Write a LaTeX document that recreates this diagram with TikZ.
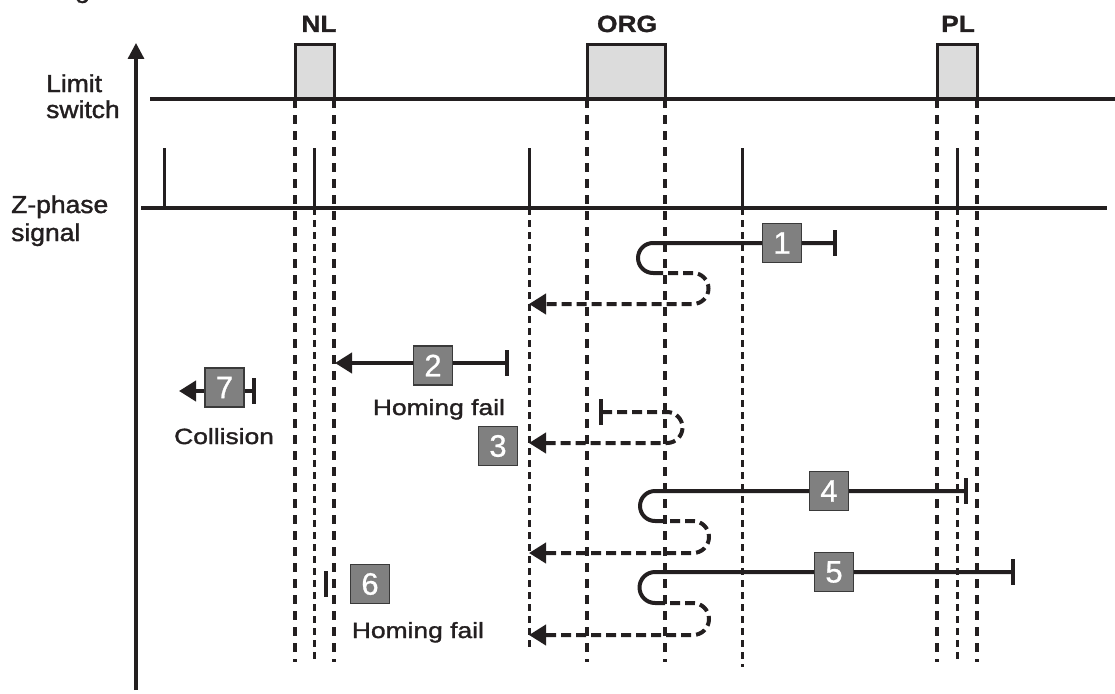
\documentclass[tikz,border=0pt]{standalone}
\usepackage{fontspec}
\setmainfont{Liberation Sans}
\newfontfamily\lblA[FakeStretch=1.08,FakeBold=1.5]{Liberation Sans}
\newfontfamily\lblB[FakeStretch=1.2,FakeBold=1.5]{Liberation Sans}
\newfontfamily\lblC[FakeStretch=1.12,FakeBold=1.2]{Liberation Sans}
\newfontfamily\lblD[FakeBold=0.8]{Liberation Sans}
\usetikzlibrary{arrows.meta}
\definecolor{ink}{HTML}{231F20}
\definecolor{swfill}{HTML}{DCDCDC}
\definecolor{numfill}{HTML}{808080}
\definecolor{numline}{HTML}{3A3A3A}
\tikzset{
  sigline/.style={line width=3.3pt, draw=ink},
  pulse/.style={line width=3pt, draw=ink},
  swbox/.style={line width=3pt, draw=ink, fill=swfill},
  guide/.style={line width=3.3pt, draw=ink, dash pattern=on 9pt off 7pt},
  zguide/.style={line width=3pt, draw=ink, dash pattern=on 7pt off 5pt},
  mv/.style={line width=4pt, draw=ink},
  mvd/.style={line width=4pt, draw=ink, dash pattern=on 10pt off 5pt},
  tip/.style={-{Triangle[length=17pt,width=20pt]}},
  bartip/.style={{Bar[width=26pt]}-},
  both/.style={{Bar[width=26pt]}-{Triangle[length=17pt,width=20pt]}},
  numbox/.style={draw=numline, line width=1.5pt, fill=numfill, minimum width=39pt, minimum height=39pt, inner sep=0pt, text=white, font=\lblD\fontsize{31}{31}\selectfont},
  sidelbl/.style={anchor=base west, inner sep=0pt, text=ink, font=\lblA\fontsize{24.5}{26}\selectfont},
  notelbl/.style={anchor=base west, inner sep=0pt, text=ink, font=\lblB\fontsize{22}{24}\selectfont},
  toplbl/.style={anchor=base, inner sep=0pt, text=ink, font=\lblC\bfseries\fontsize{23.5}{24}\selectfont},
}
\begin{document}
\begin{tikzpicture}[x=1pt,y=1pt]
\useasboundingbox (0,0) rectangle (1115,-693);
\begin{scope}
\clip (0,0) rectangle (1115,-693);
\node[sidelbl] (frag) at (75,2) {g};
\end{scope}

% labels
\node[sidelbl] (limit) at (46,-92) {Limit};
\node[sidelbl] (switch) at (46,-118) {switch};
\node[sidelbl] (zph) at (11,-213) {Z-phase};
\node[sidelbl] (sig) at (11,-241) {signal};
\node[toplbl] (nl) at (319,-32) {NL};
\node[toplbl] (org) at (627,-32) {ORG};
\node[toplbl] (pl) at (958,-32) {PL};

% guide lines (box edges)
\foreach \gx/\gb in {295/662,334/662,587/662,665/662,937/662,977/662}{
  \draw[guide] (\gx,-99) -- (\gx,-\gb);
}
% guide lines (Z pulses)
\foreach \gx/\gb in {314/662,529/648,742/667,957/662}{
  \draw[zguide] (\gx,-208) -- (\gx,-\gb);
}

% limit switch
\coordinate (ls0) at (150,-99);
\coordinate (ls1) at (1115,-99);
\draw[swbox] (295,-99) rectangle (334,-45);
\draw[swbox] (587,-99) rectangle (665,-45);
\draw[swbox] (937,-99) rectangle (977,-45);
\draw[sigline] (ls0) -- (ls1);

% Z-phase
\coordinate (zp0) at (141,-208);
\coordinate (zp1) at (1107,-208);
\draw[sigline] (zp0) -- (zp1);
\foreach \px in {164,314,529,742,957}{
  \draw[pulse] (\px,-208) -- (\px,-148);
}

% axis
\coordinate (ax0) at (136,-690);
\coordinate (ax1) at (136,-43);
\draw[line width=3.3pt, draw=ink, -{Triangle[length=16pt,width=16pt]}] (ax0) -- (ax1);

% path 1
\coordinate (p1s) at (837,-243);
\coordinate (p1c) at (653,-243);
\coordinate (p1e) at (529,-304);
\draw[mv, bartip] (p1s) -- (p1c) arc (90:270:15);
\draw[mvd, tip] (653,-273) -- (693,-273) arc (90:-90:15.5) -- (p1e);
\node[numbox] (n1) at (782,-243) {1};

% path 2
\coordinate (p2s) at (509,-363);
\coordinate (p2e) at (335,-363);
\draw[mv, both] (p2s) -- (p2e);
\node[numbox] (n2) at (433,-365.5) {2};
\node[notelbl] (hf1) at (372.7,-415) {Homing fail};

% path 3
\coordinate (p3s) at (599,-412);
\coordinate (p3e) at (529,-443);
\draw[mvd, both] (p3s) -- (667,-412) arc (90:-90:15.5) -- (p3e);
\node[numbox] (n3) at (498,-446) {3};

% path 4
\coordinate (p4s) at (968,-491);
\coordinate (p4c) at (655,-491);
\coordinate (p4e) at (529,-553);
\draw[mv, bartip] (p4s) -- (p4c) arc (90:270:15);
\draw[mvd, tip] (655,-521) -- (693,-521) arc (90:-90:16) -- (p4e);
\node[numbox] (n4) at (829,-491) {4};

% path 5
\coordinate (p5s) at (1015,-572);
\coordinate (p5c) at (655,-572);
\coordinate (p5e) at (529,-635);
\draw[mv, bartip] (p5s) -- (p5c) arc (90:270:15.5);
\draw[mvd, tip] (655,-603) -- (693,-603) arc (90:-90:16) -- (p5e);
\node[numbox] (n5) at (834,-572) {5};

% path 6
\coordinate (p6a) at (326,-571);
\coordinate (p6b) at (326,-597);
\draw[mv] (p6a) -- (p6b);
\node[numbox] (n6) at (370,-584) {6};
\node[notelbl] (hf2) at (351.7,-638) {Homing fail};

% path 7
\coordinate (p7s) at (256,-391);
\coordinate (p7e) at (179,-391);
\draw[mv, both] (p7s) -- (p7e);
\node[numbox] (n7) at (224.5,-387.5) {7};
\node[notelbl] (col) at (174,-444) {Collision};
\end{tikzpicture}
\end{document}
